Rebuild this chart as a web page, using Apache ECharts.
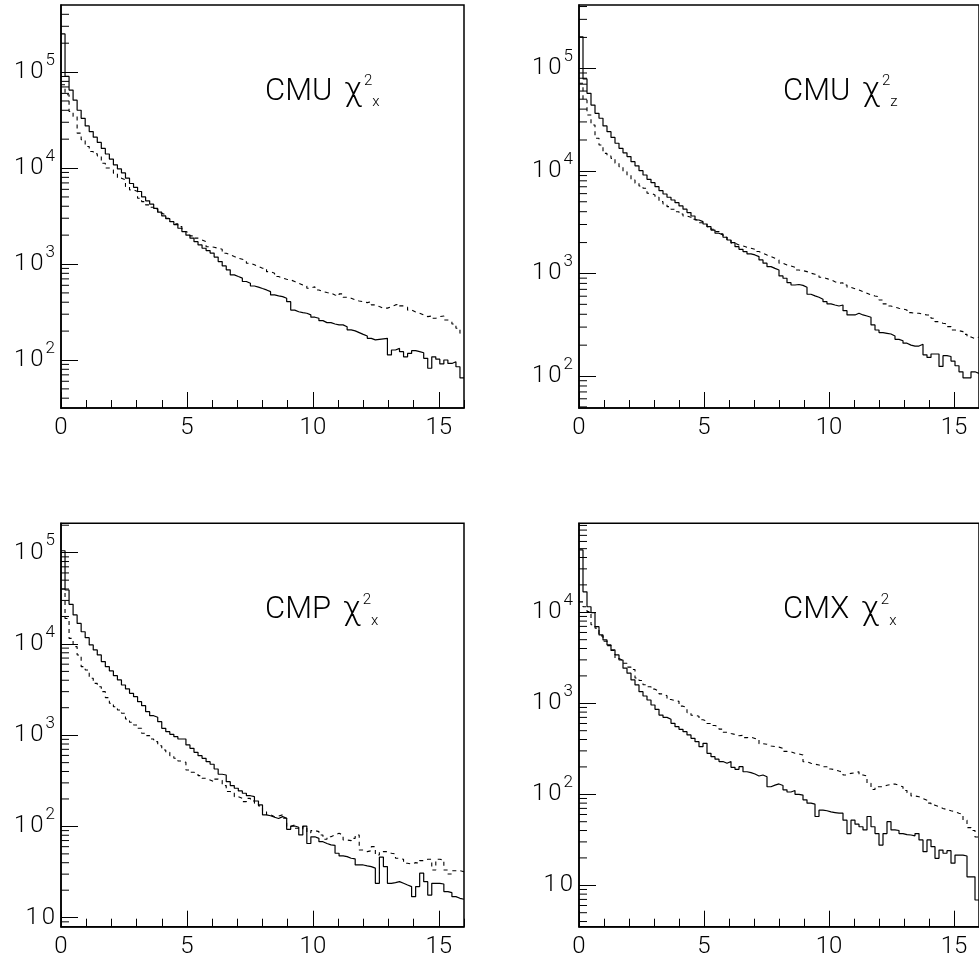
<!DOCTYPE html>
<html>
<head>
<meta charset="utf-8">
<script src="https://cdn.jsdelivr.net/npm/echarts@6/dist/echarts.min.js"></script>
<style>
html,body{margin:0;padding:0;background:#fff;}
#chart{width:979px;height:961px;}
</style>
</head>
<body>
<div id="chart"></div>
<script>
// ---------- data ----------
const NBINS = 100;
const X_MAX = 16;
const binEdges = Array.from({length: NBINS + 1}, (_, i) => +(i * X_MAX / NBINS).toFixed(2));

const xMajorTicks = [0, 5, 10, 15];
const xMinorTicks = [1, 2, 3, 4, 6, 7, 8, 9, 11, 12, 13, 14, 16];
const yDecades = [10, 100, 1000, 10000, 100000];
const yMinorTicks = [1, 10, 100, 1000, 10000, 100000].flatMap(d => [2, 3, 4, 5, 6, 7, 8, 9].map(k => k * d));

const panelNames = ['CMU', 'CMU', 'CMP', 'CMX'];
const panelSubs = ['x', 'z', 'x', 'x'];
const yRanges = [[31.6, 500000], [48.8, 414000], [7.96, 210000], [3.51, 95000]];

const cmuXSolid = [250000,90000,65000,51000,40000,33000,27500,24000,21000,18500,
16000,14000,12400,10800,9800,8900,7850,6900,6300,5700,
5000,4550,4200,3800,3470,3170,2970,2760,2570,2360,
2180,2000,1860,1710,1580,1460,1380,1300,1180,1060,
955,870,770,740,712,657,630,590,575,555,
537,515,476,465,457,440,405,331,318,311,
307,295,279,272,257,245,245,237,232,232,
222,206,201,193,185,178,168,162,164,166,
168,113,127,132,122,108,117,125,122,119,
104,82,108,102,91,100,92,96,85,65];

const cmuXDashed = [73800,58000,38800,34400,23100,19700,16800,14900,14100,13400,
11200,10000,9580,8850,7850,7540,6420,5930,5690,4850,
4470,4130,3910,3720,3385,3250,3000,2770,2620,2455,
2180,2090,1963,1860,1780,1710,1515,1495,1460,1425,
1296,1245,1195,1150,1122,1086,1020,980,940,903,
903,833,802,740,711,695,683,657,631,606,
590,560,581,537,516,504,496,476,465,488,
451,440,423,412,405,396,405,375,360,347,
347,360,375,384,366,355,331,316,307,295,
283,287,272,283,287,261,251,237,214,190];

const cmuZSolid = [203000,78700,57000,43800,36400,32600,27400,24100,21200,18600,
16600,15000,13800,12300,11200,10050,9120,8280,7680,7020,
6410,5950,5530,5200,4900,4550,4230,3920,3630,3320,
3200,3035,2855,2650,2465,2375,2255,2120,2000,1825,
1720,1635,1550,1515,1460,1355,1260,1165,1120,1080,
946,898,813,772,780,765,733,627,604,586,
561,531,505,493,482,493,434,394,394,409,
394,385,374,315,281,265,261,257,246,228,
221,209,200,196,196,204,161,152,164,164,
124,158,155,140,126,110,96,96,110,106];

const cmuZDashed = [71400,49100,35100,28000,20800,17900,14800,13950,13250,11860,
11000,9820,9120,8150,7570,7130,6770,6050,5825,5530,
5010,4750,4480,4230,4000,3800,3630,3530,3375,3270,
3125,3035,2860,2700,2560,2430,2255,2090,1970,1895,
1855,1800,1760,1720,1635,1575,1515,1460,1405,1355,
1260,1210,1183,1150,1080,1065,1042,1005,982,966,
918,890,865,832,802,813,772,733,711,690,
665,641,617,604,594,552,505,482,468,458,
451,441,415,409,409,400,394,394,366,339,
327,322,303,281,277,271,255,240,232,240];

const cmpXSolid = [105000,39000,27200,20800,16800,13600,11700,9750,8600,7570,
6400,5640,5060,4490,4030,3550,3210,2875,2640,2330,
2105,1810,1635,1570,1405,1190,1092,1023,964,908,
908,781,718,649,596,558,513,480,426,373,
366,309,280,262,245,231,217,212,190,172,
134,131,126,122,128,123,93,101,98,80.6,
101,65,77,74,68,65,62.7,62,50.8,47.5,
46.7,44.8,44,37.8,37.8,37,36.3,34.9,23.8,46,
36.3,23.8,24.2,24.8,23.8,22.8,21.9,17,21.9,30.7,
24.8,17.7,23.8,23.8,23.4,19.3,18.8,17,16.3,15.9];

const cmpXDashed = [40000,19000,11500,9340,7570,5640,5180,4200,3700,3400,
3000,2580,2240,2050,1890,1740,1506,1385,1293,1190,
1050,988,908,849,767,689,649,596,558,521,
505,415,392,382,360,337,323,309,330,320,
280,241,237,212,203,187,203,190,179,168,
145,134,128,130,134,123,99.5,104,95.5,93,
99.5,85.5,90,87.7,80.6,72.3,77,80.6,84,80.6,
71,69.8,74,80.6,55.2,52.9,54.2,60,48.6,52.9,
52.9,50.8,49.9,44.8,43.6,39.5,38.8,40.1,39.5,42.2,
43.6,43.6,33.3,43.6,42.9,33.3,30.1,32.7,32.7,31.9];

const cmxXSolid = [48400,16800,11500,9900,6950,5640,4970,4380,3860,3400,
2990,2430,2140,1805,1590,1343,1203,1087,958,859,
743,701,667,603,554,517,488,449,412,379,
334,363,282,259,243,229,219,229,198,188,
201,177,173,167,159,163,156,121,126,130,
125,112,106,110,100,98,87,80,78,57,
67,66,64,63,62,62,52,37,52,47,
44,40.6,57,44,37,27.7,37,50,40.6,40,
37,36,35.7,35,37,31.5,23.4,31.5,26.6,19.8,
24.4,22.5,24,17.5,21.5,21.5,21,12.4,12.4,6.9];

const cmxXDashed = [13000,11500,10200,7300,6700,5500,4800,4300,3800,3100,
2950,2750,2500,2350,1900,1780,1600,1520,1430,1360,
1270,1210,1100,1070,1050,930,900,790,740,720,
660,640,600,570,550,520,480,465,455,440,
445,420,425,410,405,360,355,340,335,330,
320,296,292,282,278,270,228,219,214,210,
201,201,190,186,180,175,163,170,172,177,
163,159,132,113,121,121,126,128,130,125,
121,110,104,96,94,90,86,80,76,73,
70,68,66,64.4,62,60,52,43,40,34];

const solidSeries = [cmuXSolid, cmuZSolid, cmpXSolid, cmxXSolid];
const dashedSeries = [cmuXDashed, cmuZDashed, cmpXDashed, cmxXDashed];

// ---------- layout / style ----------
const FONT = 'Roboto';
const layout = [
  {left: 61, top: 5, width: 403, height: 403},
  {left: 579, top: 5, width: 403, height: 403},
  {left: 61, top: 523.3, width: 403, height: 403.4},
  {left: 579, top: 523.3, width: 403, height: 403.4}
];

function histPoints(vals) {
  return binEdges.map((x, i) => [x, vals[Math.min(i, vals.length - 1)]]);
}

const grids = [], xAxes = [], yAxes = [], series = [], graphics = [];

layout.forEach((g, p) => {
  grids.push({left: g.left, top: g.top, width: g.width, height: g.height,
    show: true, borderColor: '#000', borderWidth: 1.5, backgroundColor: 'transparent'});

  xAxes.push({gridIndex: p, type: 'value', position: 'bottom', min: 0, max: X_MAX,
    axisLine: {show: true, onZero: false, lineStyle: {color: '#000', width: 1.5}},
    axisTick: {show: true, inside: true, length: 16, customValues: xMajorTicks, lineStyle: {color: '#000', width: 1}},
    axisLabel: {show: true, customValues: xMajorTicks, color: '#000', fontSize: 24, fontFamily: FONT, fontWeight: 300, margin: 8},
    splitLine: {show: false}});
  xAxes.push({gridIndex: p, type: 'value', position: 'bottom', min: 0, max: X_MAX,
    axisLine: {show: false},
    axisTick: {show: true, inside: true, length: 8, customValues: xMinorTicks, lineStyle: {color: '#000', width: 1}},
    axisLabel: {show: false}, splitLine: {show: false}});

  yAxes.push({gridIndex: p, type: 'log', position: 'left', min: yRanges[p][0], max: yRanges[p][1],
    axisLine: {show: true, onZero: false, lineStyle: {color: '#000', width: 1.5}},
    axisTick: {show: true, inside: true, length: 17, customValues: yDecades, lineStyle: {color: '#000', width: 1}},
    axisLabel: {show: true, customValues: yDecades, margin: 6,
      formatter: v => {
        const e = Math.round(Math.log10(v));
        return e === 1 ? '{a|1}{b|0}' : '{a|1}{b|0}{s|' + e + '}';
      },
      rich: {
        a: {fontSize: 24, lineHeight: 40, fontFamily: FONT, fontWeight: 300, color: '#000', padding: [0, 3, 0, 0]},
        b: {fontSize: 24, lineHeight: 40, fontFamily: FONT, fontWeight: 300, color: '#000'},
        s: {fontSize: 17, lineHeight: 17, verticalAlign: 'top', fontFamily: FONT, fontWeight: 300, color: '#000', padding: [0, 0, 0, 2]}
      }},
    splitLine: {show: false}});

  // minor ticks of the log axis (2..9 x 10^n), placed through the axis scale
  series.push({type: 'custom', xAxisIndex: 2 * p, yAxisIndex: p, silent: true, clip: false, z: 5,
    data: yMinorTicks.filter(v => v > yRanges[p][0] && v < yRanges[p][1]).map(v => [0, v]),
    encode: {x: 0, y: 1},
    renderItem: (params, api) => {
      const pt = api.coord([0, api.value(1)]);
      return {type: 'line', shape: {x1: pt[0], y1: pt[1], x2: pt[0] + 8, y2: pt[1]},
        style: {stroke: '#000', lineWidth: 1}};
    }});

  series.push({type: 'line', xAxisIndex: 2 * p, yAxisIndex: p, data: histPoints(dashedSeries[p]),
    step: 'end', symbol: 'none', silent: true, clip: true,
    lineStyle: {color: '#000', width: 1.1, type: [4, 4]}});
  series.push({type: 'line', xAxisIndex: 2 * p, yAxisIndex: p, data: histPoints(solidSeries[p]),
    step: 'end', symbol: 'none', silent: true, clip: true,
    lineStyle: {color: '#000', width: 1.2, type: 'solid'}});

  graphics.push({type: 'text', left: g.left + 204, top: g.top + 69, silent: true,
    style: {
      text: '{m|' + panelNames[p] + '}{g|\u03C7}{s|2}{b|' + panelSubs[p] + '}',
      rich: {
        m: {fontSize: 31, lineHeight: 36, fontFamily: FONT, fontWeight: 300, fill: '#000', padding: [0, 12, 0, 0]},
        g: {fontSize: 33, lineHeight: 36, fontFamily: FONT, fontWeight: 300, fill: '#000'},
        s: {fontSize: 15, lineHeight: 15, verticalAlign: 'top', fontFamily: FONT, fontWeight: 300, fill: '#000', padding: [0, 0, 0, 2]},
        b: {fontSize: 15, lineHeight: 15, verticalAlign: 'bottom', fontFamily: FONT, fontWeight: 300, fill: '#000'}
      }
    }});
});

const chart = echarts.init(document.getElementById('chart'), null, {renderer: 'canvas'});
chart.setOption({
  animation: false,
  backgroundColor: '#fff',
  grid: grids,
  xAxis: xAxes,
  yAxis: yAxes,
  series: series,
  graphic: graphics
});
</script>
</body>
</html>
